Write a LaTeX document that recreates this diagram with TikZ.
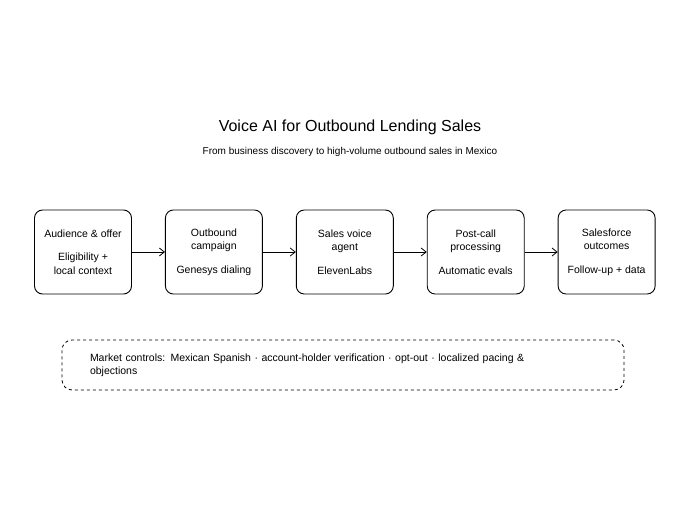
\documentclass[tikz,border=0pt]{standalone}
\usepackage{fontspec}
\setmainfont{Liberation Sans}
\usetikzlibrary{arrows.meta,positioning}
\tikzset{
  stage/.style={draw, line width=0.9pt, rounded corners=8pt, minimum width=97pt,
    minimum height=84pt, align=center, font=\fontsize{10.5}{13.5}\selectfont},
  flow/.style={->, >={Straight Barb[length=5pt,width=8pt]}, line width=0.8pt}
}
\begin{document}
\begin{tikzpicture}[x=1pt,y=-1pt]
  \useasboundingbox (0,0) rectangle (700,525);
  % ── Title ──
  \node[font=\fontsize{16}{18}\selectfont] (title) at (350,127) {Voice AI for Outbound Lending Sales};
  \node[font=\fontsize{10}{12}\selectfont] (sub) at (350,152) {From business discovery to high-volume outbound sales in Mexico};
  % ── Stages ──
  \node[stage] (aud) at (83,252) {Audience \& offer\\[10pt]Eligibility +\\local context};
  \node[stage, right=33pt of aud] (camp) {Outbound\\campaign\\[10pt]Genesys dialing};
  \node[stage, right=33pt of camp] (agent) {Sales voice\\agent\\[10pt]ElevenLabs};
  \node[stage, right=33pt of agent] (post) {Post-call\\processing\\[10pt]Automatic evals};
  \node[stage, right=33pt of post] (sf) {Salesforce\\outcomes\\[10pt]Follow-up + data};
  \foreach \a/\b in {aud/camp, camp/agent, agent/post, post/sf}
    \draw[flow] (\a) -- (\b);
  % ── Controls ──
  \node[draw, dashed, line width=0.8pt, rounded corners=10pt, minimum width=562pt,
    minimum height=50pt, text width=506pt, align=left,
    font=\fontsize{10.5}{13}\selectfont] (ctrl) at (343,365)
    {Market controls: Mexican Spanish · account-holder verification · opt-out · localized pacing \&\\objections};
\end{tikzpicture}
\end{document}
